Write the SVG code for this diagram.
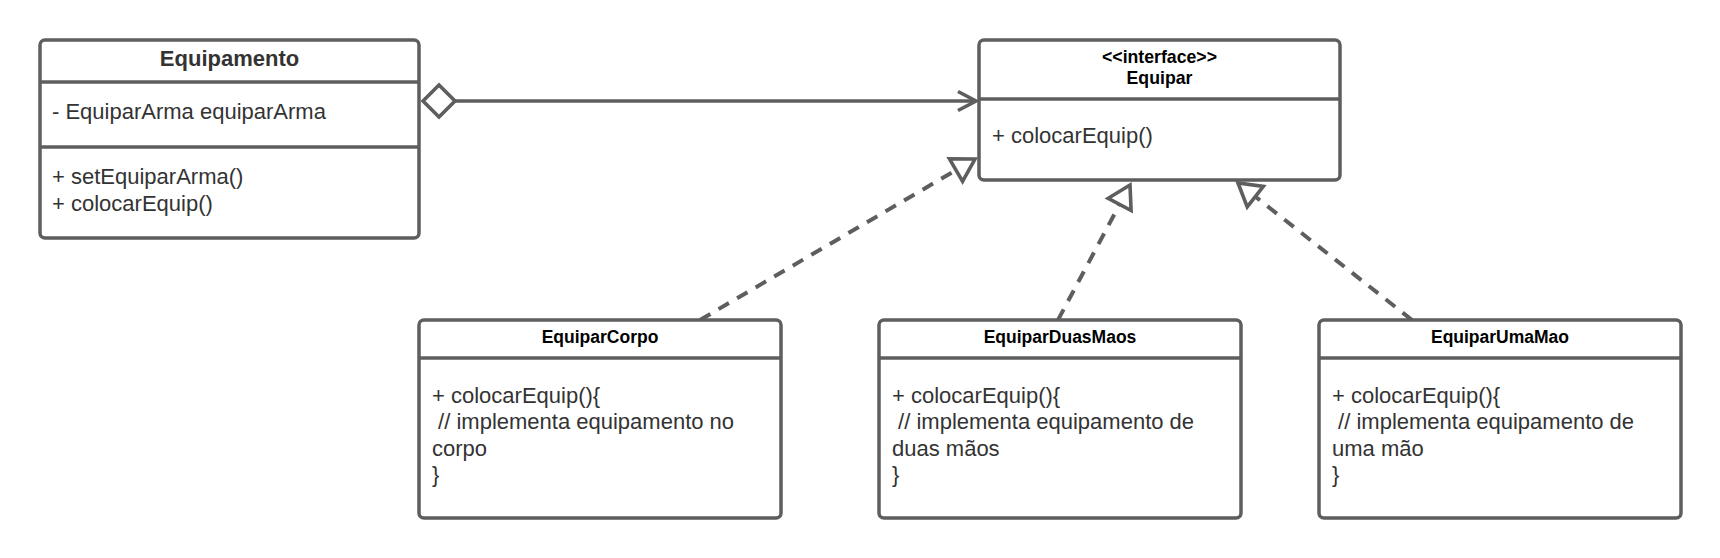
<svg xmlns="http://www.w3.org/2000/svg" width="1720" height="558" viewBox="0 0 1720 558">
  <style>
    .box { fill: #ffffff; stroke: #5e5e5e; stroke-width: 3.5; }
    .div { stroke: #5e5e5e; stroke-width: 3.5; fill: none; }
    .conn { stroke: #5e5e5e; stroke-width: 3.6; fill: none; }
    .dash { stroke-width: 4; stroke-dasharray: 12 9.5; }
    .title { font-family: "Liberation Sans", Arial, sans-serif; font-weight: bold; text-anchor: middle; fill: #000000; }
    .body { font-family: "Liberation Sans", Arial, sans-serif; font-size: 22px; fill: #333333; white-space: pre; }
  </style>
  <defs>
    <marker id="realize" markerUnits="userSpaceOnUse" viewBox="-30 -20 40 40" markerWidth="40" markerHeight="40" refX="0" refY="0" orient="auto" overflow="visible">
      <path d="M0,0 L-22,-13 L-22,13 Z" fill="#ffffff" stroke="#5e5e5e" stroke-width="3.6" stroke-linejoin="miter"/>
    </marker>
  </defs>

  <g id="connectors">
    <polygon points="423,101 439,85 455,101 439,117" fill="#ffffff" stroke="#5e5e5e" stroke-width="3.6"/>
    <line class="conn" x1="455" y1="101" x2="976" y2="101"/>
    <polyline class="conn" points="958,91.5 976,101 958,110.5"/>
    <line class="conn dash" x1="700" y1="320" x2="975" y2="159" marker-end="url(#realize)"/>
    <line class="conn dash" x1="1058" y1="320" x2="1130" y2="185" marker-end="url(#realize)"/>
    <line class="conn dash" x1="1412" y1="320" x2="1238" y2="183" marker-end="url(#realize)"/>
  </g>

  <g id="Equipamento">
    <rect class="box" x="40" y="40" width="379" height="198" rx="5"/>
    <line class="div" x1="40" y1="82" x2="419" y2="82"/>
    <line class="div" x1="40" y1="147" x2="419" y2="147"/>
    <text class="title" x="229.5" y="65.5" font-size="22" style="fill:#333333">Equipamento</text>
    <text class="body" x="52" y="119">- EquiparArma equiparArma</text>
    <text class="body" x="52" y="184">+ setEquiparArma()</text>
    <text class="body" x="52" y="210.5">+ colocarEquip()</text>
  </g>

  <g id="Equipar">
    <rect class="box" x="979" y="40" width="361" height="140" rx="5"/>
    <line class="div" x1="979" y1="99" x2="1340" y2="99"/>
    <text class="title" x="1159.5" y="62.5" font-size="17.7">&lt;&lt;interface&gt;&gt;</text>
    <text class="title" x="1159.5" y="84" font-size="17.7">Equipar</text>
    <text class="body" x="992" y="143">+ colocarEquip()</text>
  </g>

  <g id="EquiparCorpo">
    <rect class="box" x="419" y="320" width="362" height="198" rx="5"/>
    <line class="div" x1="419" y1="358" x2="781" y2="358"/>
    <text class="title" x="600" y="342.5" font-size="17.5">EquiparCorpo</text>
    <text class="body" x="432" y="402.5">+ colocarEquip(){</text>
    <text class="body" x="432" y="429"> // implementa equipamento no</text>
    <text class="body" x="432" y="455.5">corpo</text>
    <text class="body" x="432" y="482">}</text>
  </g>

  <g id="EquiparDuasMaos">
    <rect class="box" x="879" y="320" width="362" height="198" rx="5"/>
    <line class="div" x1="879" y1="358" x2="1241" y2="358"/>
    <text class="title" x="1060" y="342.5" font-size="17.5">EquiparDuasMaos</text>
    <text class="body" x="892" y="402.5">+ colocarEquip(){</text>
    <text class="body" x="892" y="429"> // implementa equipamento de</text>
    <text class="body" x="892" y="455.5">duas mãos</text>
    <text class="body" x="892" y="482">}</text>
  </g>

  <g id="EquiparUmaMao">
    <rect class="box" x="1319" y="320" width="362" height="198" rx="5"/>
    <line class="div" x1="1319" y1="358" x2="1681" y2="358"/>
    <text class="title" x="1500" y="342.5" font-size="17.5">EquiparUmaMao</text>
    <text class="body" x="1332" y="402.5">+ colocarEquip(){</text>
    <text class="body" x="1332" y="429"> // implementa equipamento de</text>
    <text class="body" x="1332" y="455.5">uma mão</text>
    <text class="body" x="1332" y="482">}</text>
  </g>
</svg>
